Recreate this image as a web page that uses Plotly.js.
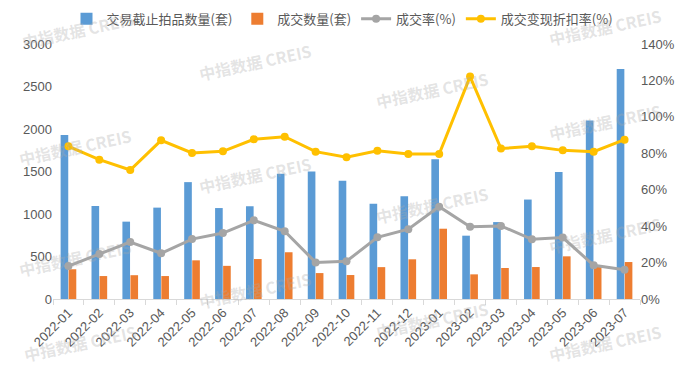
<!DOCTYPE html>
<html>
<head>
<meta charset="utf-8">
<script src="https://cdn.plot.ly/plotly-3.0.1.min.js"></script>
<style>html,body{margin:0;padding:0;background:#fff;}#chart{width:685px;height:369px;}</style>
</head>
<body>
<div id="chart"></div>
<script>
const months = ["2022-01","2022-02","2022-03","2022-04","2022-05","2022-06","2022-07","2022-08","2022-09","2022-10","2022-11","2022-12","2023-01","2023-02","2023-03","2023-04","2023-05","2023-06","2023-07"];
const listed = [1930,1095,910,1075,1375,1070,1090,1475,1500,1390,1120,1210,1645,745,905,1170,1495,2100,2705];
const sold = [350,270,280,270,455,390,470,550,305,282,375,467,827,290,365,376,502,400,435];
const rate = [18.1,24.7,31.3,25.1,32.9,36.2,43.2,37.2,20.1,20.7,33.9,38.3,50.7,39.7,40.1,32.8,33.7,18.5,16.1];
const discount = [83.8,76.5,70.8,87.1,80.2,81.1,87.7,89.1,80.9,77.8,81.4,79.6,79.6,122.1,82.6,83.8,81.6,80.9,87.5];
const names = ["交易截止拍品数量(套)","成交数量(套)","成交率(%)","成交变现折扣率(%)"];

const fontFam = "Liberation Sans, Noto Sans CJK SC, sans-serif";
const traces = [
  {type:"bar", name:names[0], x:months, y:listed, marker:{color:"#5B9BD5"}, yaxis:"y"},
  {type:"bar", name:names[1], x:months, y:sold, marker:{color:"#ED7D31"}, yaxis:"y"},
  {type:"scatter", mode:"lines+markers", name:names[2], x:months, y:rate, yaxis:"y2",
   line:{color:"#A5A5A5", width:3}, marker:{color:"#A5A5A5", size:8}},
  {type:"scatter", mode:"lines+markers", name:names[3], x:months, y:discount, yaxis:"y2",
   line:{color:"#FFC000", width:3}, marker:{color:"#FFC000", size:8}}
];

// faint watermark positions in pixels
const wm = [[78,30],[75,147],[75,258],[80,343],[255,62],[255,175],[255,290],[432,90],[432,205],[432,320],[605,27],[605,122],[605,235],[605,343]];
const L=53, R=640, T=44, B=299;
const annotations = wm.map(p => ({
  text:"中指数据 CREIS", xref:"paper", yref:"paper",
  x:(p[0]-L)/(R-L), y:(B-p[1])/(B-T), xanchor:"center", yanchor:"middle",
  showarrow:false, textangle:-12,
  font:{family:"Noto Sans CJK SC, sans-serif", size:16, color:"rgba(170,170,170,0.33)", weight:700}
}));

const layout = {
  width:685, height:369,
  margin:{l:L, r:685-R, t:T, b:369-B, autoexpand:false},
  paper_bgcolor:"#fff", plot_bgcolor:"rgba(0,0,0,0)",
  font:{family:fontFam, color:"#595959", size:12},
  barmode:"group", bargap:0.48, bargroupgap:0.05,
  showlegend:true,
  legend:{orientation:"h", x:0.5, xanchor:"center", xref:"container", y:0.99, yanchor:"top", yref:"container",
          font:{family:"Noto Sans CJK SC, sans-serif", size:13, color:"#595959"}, traceorder:"normal", itemwidth:30},
  xaxis:{type:"category", range:[-0.5, months.length-0.5], automargin:false, showline:true, linecolor:"#D9D9D9", linewidth:1, ticks:"outside", tickson:"boundaries",
         ticklen:5, tickcolor:"#D9D9D9", tickangle:-45, showgrid:false, zeroline:false,
         tickfont:{size:13, color:"#595959"}},
  yaxis:{automargin:false, range:[0,3000], dtick:500, showgrid:false, zeroline:false, showline:false, ticks:"",
         tickfont:{size:13, color:"#595959"}},
  yaxis2:{automargin:false, overlaying:"y", side:"right", range:[0,140], dtick:20, ticksuffix:"%", showgrid:false,
          zeroline:false, showline:false, ticks:"", tickfont:{size:13, color:"#595959"}},
  annotations:annotations
};
Plotly.newPlot("chart", traces, layout, {displayModeBar:false, staticPlot:true});
</script>
</body>
</html>
